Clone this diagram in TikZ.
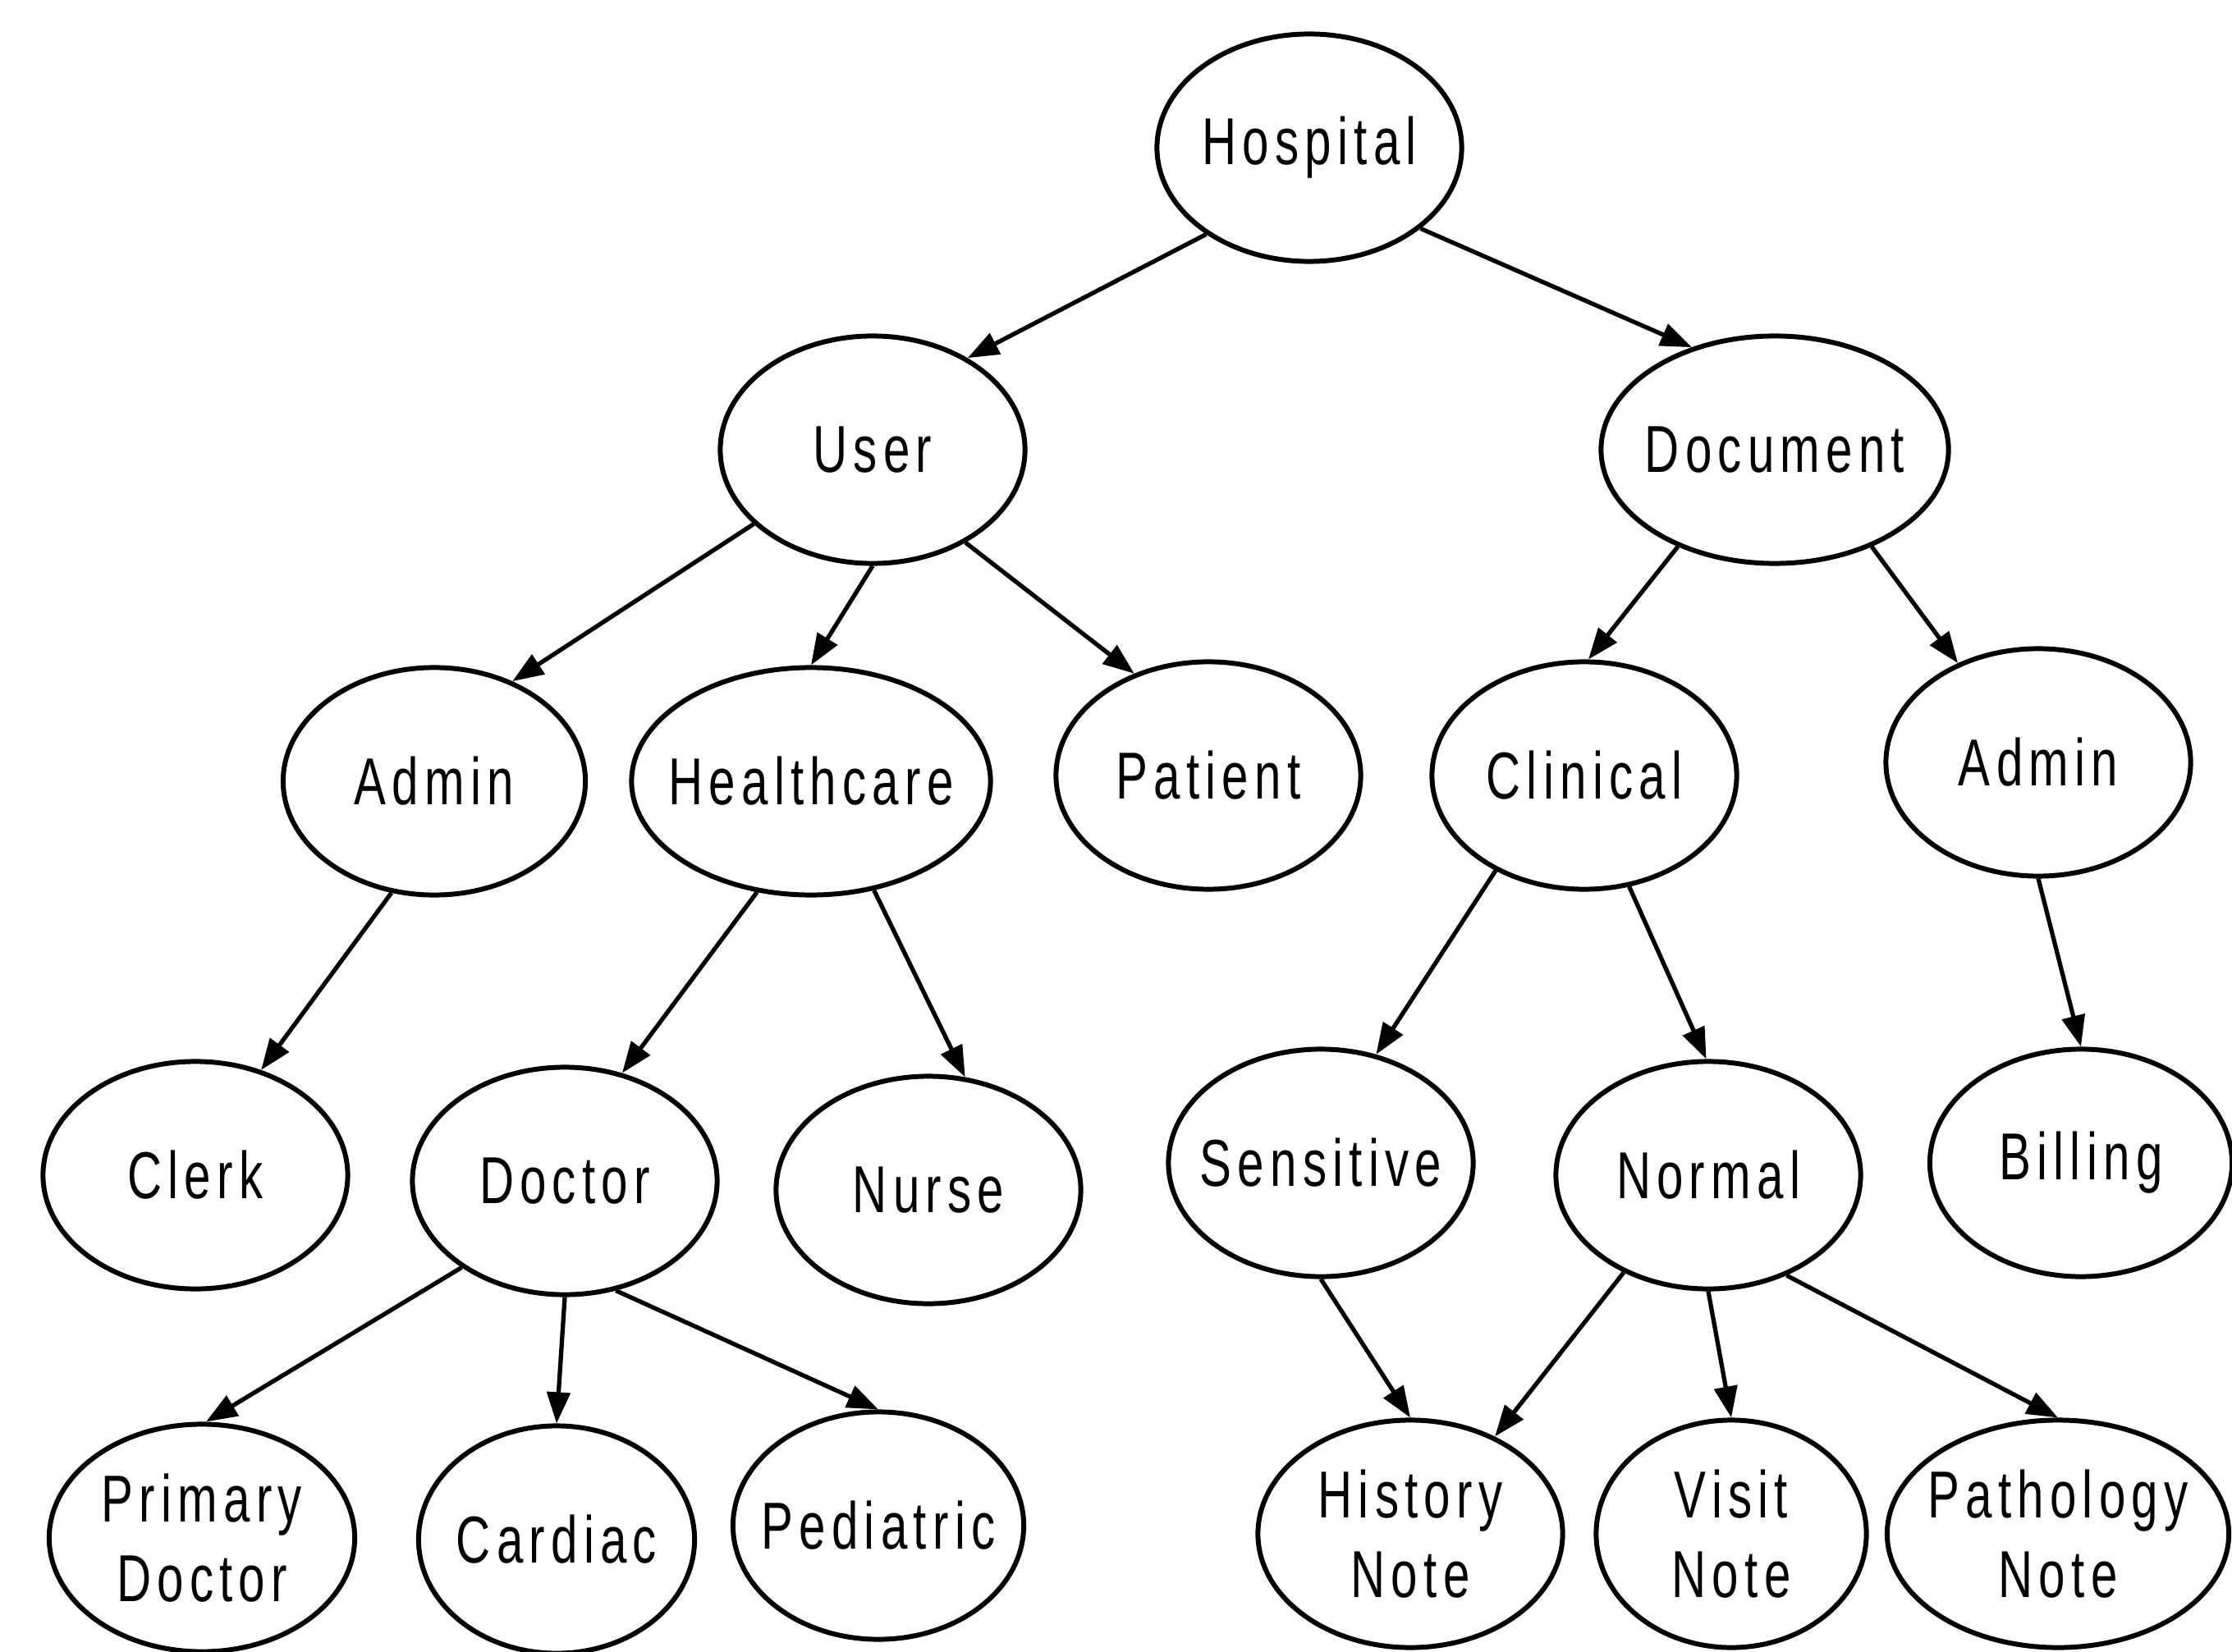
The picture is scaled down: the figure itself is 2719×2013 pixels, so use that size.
\documentclass[tikz,border=0pt]{standalone}
\usepackage{fontspec}
\setmainfont{Liberation Sans}[FakeStretch=0.72,LetterSpace=9]
\usetikzlibrary{shapes.geometric,arrows.meta}

\tikzset{
 cls/.style={draw, ellipse, line width=1.7pt, inner xsep=-0.6cm, inner ysep=0pt,
  align=center, minimum width=3.71cm, minimum height=2.77cm,
  font=\fontsize{23}{27.6}\selectfont},
 edge/.style={line width=1.5pt, -{Triangle[length=0.38cm,width=0.28cm]}}
}

\begin{document}
\begin{tikzpicture}[x=0.01cm,y=-0.01cm]
 \useasboundingbox (0,0) rectangle (2719,2013);
 % level 0 and 1
 \node[cls] (hosp) at (1595,180) {Hospital};
 \node[cls] (user) at (1063,548) {User};
 \node[cls, minimum width=4.23cm] (doc) at (2162,548) {Document};
 % level 2
 \node[cls, minimum width=3.68cm] (adminu) at (529,952) {Admin};
 \node[cls, minimum width=4.37cm] (health) at (988,952) {Healthcare};
 \node[cls] (patient) at (1472,945) {Patient};
 \node[cls] (clin) at (1930,945) {Clinical};
 \node[cls] (admind) at (2483,929) {Admin};
 % level 3
 \node[cls] (clerk) at (238,1432) {Clerk};
 \node[cls] (doctor) at (688,1439) {Doctor};
 \node[cls] (nurse) at (1131,1450) {Nurse};
 \node[cls] (sens) at (1609,1417) {Sensitive};
 \node[cls] (normal) at (2081,1432) {Normal};
 \node[cls, minimum width=3.68cm] (billing) at (2535,1417) {Billing};
 % level 4
 \node[cls, minimum width=3.72cm] (primary) at (246,1874) {Primary\\Doctor};
 \node[cls, minimum width=3.36cm] (cardiac) at (678,1876) {Cardiac};
 \node[cls, minimum width=3.54cm] (pediat) at (1070,1859) {Pediatric};
 \node[cls] (history) at (1718,1869) {History\\Note};
 \node[cls, minimum width=3.29cm] (visit) at (2109,1869) {Visit\\Note};
 \node[cls, minimum width=4.16cm] (patho) at (2507,1869) {Pathology\\Note};

 % edges: from/to/start angle/end angle
 \foreach \a/\b/\s/\e in {hosp/user/220.7/44.6, hosp/doc/324.3/129.7,
   user/adminu/212.9/52, user/health/270/90, user/patient/315/126.2,
   doc/clin/225/88, doc/admind/315/129.5,
   adminu/clerk/249/58.7, health/doctor/244.9/62, health/nurse/300.4/72.4,
   clin/sens/227.7/63, clin/normal/292/91.5, admind/billing/270/90,
   doctor/primary/220.3/88, doctor/cardiac/270/90, doctor/pediat/295.6/90,
   sens/history/270/90, normal/history/229.5/49.2,
   normal/visit/270/90, normal/patho/308.3/90} {
  \draw[edge] (\a.\s) -- (\b.\e);
 };
\end{tikzpicture}
\end{document}
